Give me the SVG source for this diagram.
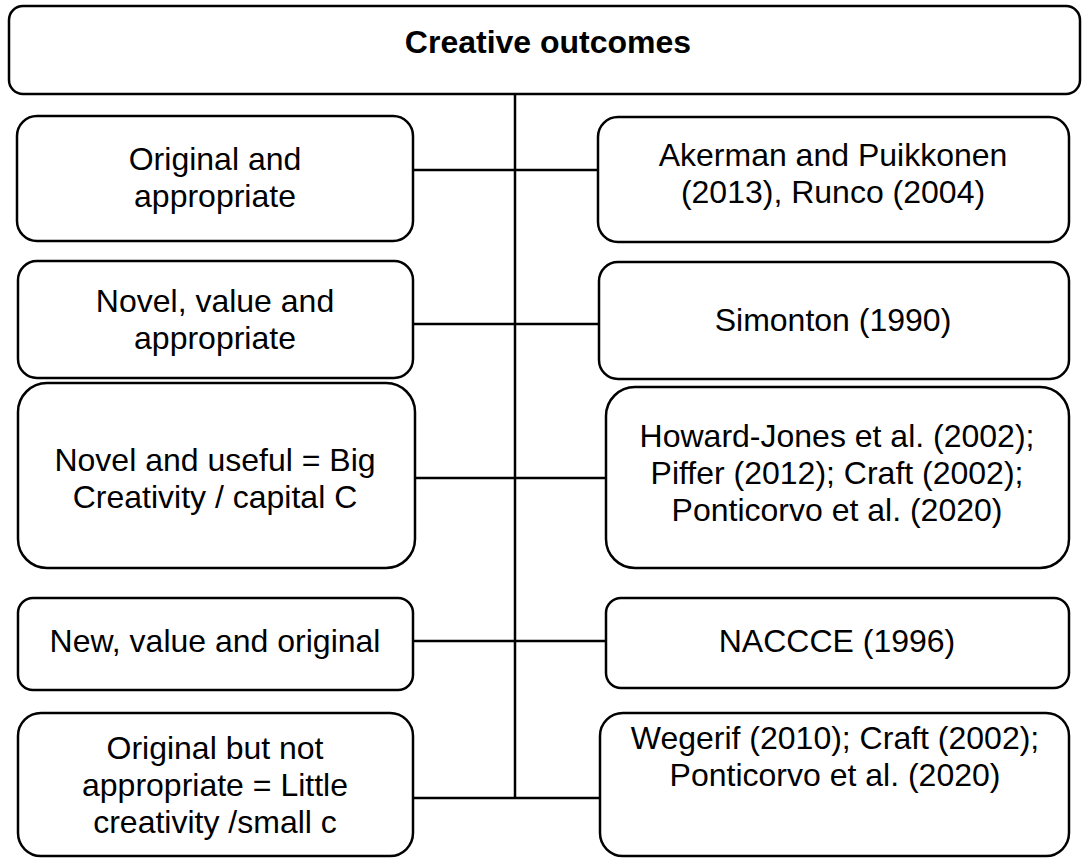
<svg xmlns="http://www.w3.org/2000/svg" width="1082" height="858" viewBox="0 0 1082 858">
  <style>
    .box { fill: #ffffff; stroke: #000000; stroke-width: 2.5; }
    .wire { fill: none; stroke: #000000; stroke-width: 2.5; }
    text { font-family: "Liberation Sans", Arial, sans-serif; font-size: 32px; fill: #000000; text-anchor: middle; }
    .title { font-weight: bold; }
  </style>
  <rect width="1082" height="858" fill="#ffffff"/>

  <!-- spine and branches -->
  <g id="connectors">
    <path class="wire" d="M515,94 V798"/>
    <path class="wire" d="M413,170 H598"/>
    <path class="wire" d="M413,324 H599"/>
    <path class="wire" d="M415,478 H606"/>
    <path class="wire" d="M413,641 H606"/>
    <path class="wire" d="M413,798 H600"/>
  </g>

  <g id="root">
    <rect class="box" x="9" y="6" width="1071" height="88" rx="14"/>
    <text class="title" x="548" y="53">Creative outcomes</text>
  </g>

  <!-- definitions (left column) -->
  <g id="def-original-appropriate">
    <rect class="box" x="17" y="116" width="396" height="125" rx="20"/>
    <text x="215" y="170">Original and</text>
    <text x="215" y="207">appropriate</text>
  </g>
  <g id="def-novel-value-appropriate">
    <rect class="box" x="18" y="261" width="395" height="117" rx="19"/>
    <text x="215" y="312">Novel, value and</text>
    <text x="215" y="349">appropriate</text>
  </g>
  <g id="def-big-c">
    <rect class="box" x="18" y="383" width="397" height="185" rx="29"/>
    <text x="215" y="471">Novel and useful = Big</text>
    <text x="215" y="508">Creativity / capital C</text>
  </g>
  <g id="def-new-value-original">
    <rect class="box" x="18" y="598" width="395" height="92" rx="15"/>
    <text x="215" y="652">New, value and original</text>
  </g>
  <g id="def-little-c">
    <rect class="box" x="18" y="713" width="395" height="143" rx="23"/>
    <text x="215" y="759">Original but not</text>
    <text x="215" y="796">appropriate = Little</text>
    <text x="215" y="833">creativity /small c</text>
  </g>

  <!-- sources (right column) -->
  <g id="src-akerman-runco">
    <rect class="box" x="598" y="117" width="471" height="125" rx="20"/>
    <text x="833" y="166">Akerman and Puikkonen</text>
    <text x="833" y="203">(2013), Runco (2004)</text>
  </g>
  <g id="src-simonton">
    <rect class="box" x="599" y="262" width="470" height="117" rx="19"/>
    <text x="833" y="331">Simonton (1990)</text>
  </g>
  <g id="src-howard-jones">
    <rect class="box" x="606" y="387" width="463" height="181" rx="29"/>
    <text x="837" y="447">Howard-Jones et al. (2002);</text>
    <text x="837" y="484">Piffer (2012); Craft (2002);</text>
    <text x="837" y="521">Ponticorvo et al. (2020)</text>
  </g>
  <g id="src-naccce">
    <rect class="box" x="606" y="598" width="463" height="90" rx="15"/>
    <text x="837" y="652">NACCCE (1996)</text>
  </g>
  <g id="src-wegerif">
    <rect class="box" x="600" y="713" width="469" height="143" rx="23"/>
    <text x="835" y="749">Wegerif (2010); Craft (2002);</text>
    <text x="835" y="786">Ponticorvo et al. (2020)</text>
  </g>
</svg>
